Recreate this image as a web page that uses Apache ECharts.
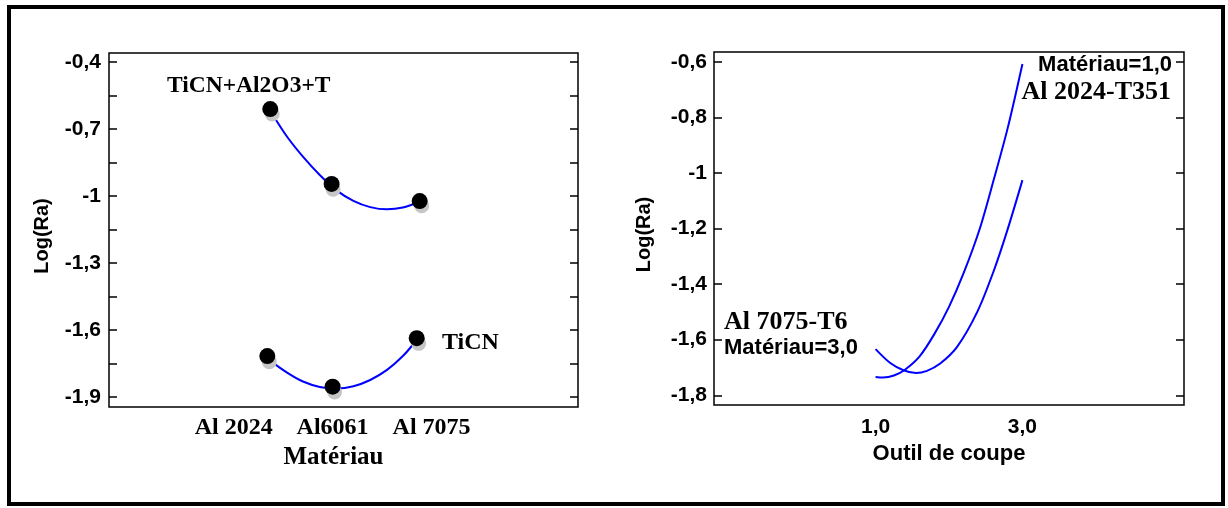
<!DOCTYPE html>
<html><head><meta charset="utf-8">
<script src="https://cdn.jsdelivr.net/npm/echarts@6/dist/echarts.min.js"></script>
<style>html,body{margin:0;padding:0;background:#fff}#c{width:1228px;height:508px}</style>
</head><body><div id="c"></div>
<script>
// ---- Left panel: Log(Ra) vs Matériau ----
const materials = ['Al 2024', 'Al6061', 'Al 7075'];
const materialPos = [1, 2, 3];
const leftYTicks = [-1.9, -1.6, -1.3, -1, -0.7, -0.4];
const leftYAllTicks = [-1.9, -1.75, -1.6, -1.45, -1.3, -1.15, -1, -0.85, -0.7, -0.55, -0.4];

// TiCN+Al2O3+T
const coatedX = [1.37, 1.99, 2.88];
const coatedY = [-0.611, -0.946, -1.023];
const coatedFitX = [1.39, 2.005, 2.90];
const coatedFitY = [-0.633, -0.970, -1.044];
const coatedCurveX = [1.39, 1.54, 1.70, 1.87, 2.04, 2.21, 2.38, 2.55, 2.71, 2.88];
const coatedCurveY = [-0.633, -0.735, -0.824, -0.906, -0.975, -1.022, -1.050, -1.060, -1.052, -1.026];

// TiCN
const ticnX = [1.34, 2.00, 2.85];
const ticnY = [-1.717, -1.854, -1.637];
const ticnFitX = [1.36, 2.02, 2.87];
const ticnFitY = [-1.742, -1.878, -1.660];
const ticnCurveX = [1.36, 1.54, 1.70, 1.87, 2.04, 2.21, 2.38, 2.55, 2.71, 2.85];
const ticnCurveY = [-1.735, -1.791, -1.831, -1.855, -1.862, -1.852, -1.824, -1.779, -1.717, -1.645];

// ---- Right panel: Log(Ra) vs Outil de coupe ----
const toolTicks = [1, 3];
const toolTickLabels = ['1,0', '3,0'];
const rightYTicks = [-1.8, -1.6, -1.4, -1.2, -1, -0.8, -0.6];

// Matériau=1,0 (Al 2024-T351)
const al2024X = [1.00, 1.10, 1.25, 1.40, 1.60, 1.80, 2.00, 2.20, 2.42, 2.61, 2.80, 3.00];
const al2024Y = [-1.734, -1.736, -1.729, -1.708, -1.660, -1.580, -1.482, -1.360, -1.200, -1.024, -0.838, -0.608];
// Matériau=3,0 (Al 7075-T6)
const al7075X = [1.00, 1.20, 1.38, 1.55, 1.70, 1.88, 2.11, 2.385, 2.61, 2.795, 3.00];
const al7075Y = [-1.634, -1.684, -1.710, -1.720, -1.712, -1.686, -1.626, -1.500, -1.352, -1.206, -1.026];

const zip = (xs, ys) => xs.map((x, i) => [x, ys[i]]);
const fmtComma = v => String(Math.round(v * 10) / 10).replace('.', ',');

const SANS = '"Liberation Sans", Arial, sans-serif';
const SERIF = '"Liberation Serif", "Times New Roman", serif';
const BLUE = '#0000ff';

const tickStyle = { show: true, inside: true, length: 8, lineStyle: { color: '#000', width: 1.5 } };
const noLine = { show: false, onZero: false };

const chart = echarts.init(document.getElementById('c'), null, { renderer: 'canvas' });
chart.setOption({
  backgroundColor: '#fff',
  animation: false,
  grid: [
    { left: 109, top: 53, width: 469, height: 354, show: true, borderColor: '#000', borderWidth: 1.5, backgroundColor: 'transparent' },
    { left: 714, top: 52, width: 470, height: 353, show: true, borderColor: '#000', borderWidth: 1.5, backgroundColor: 'transparent' }
  ],
  xAxis: [
    {
      gridIndex: 0, type: 'value', min: -0.26, max: 4.48,
      axisLine: noLine, axisTick: { show: false }, splitLine: { show: false },
      axisLabel: {
        customValues: materialPos, margin: 9,
        formatter: v => materials[materialPos.indexOf(Math.round(v))] || '',
        fontFamily: SERIF, fontWeight: 'bold', fontSize: 24, color: '#000'
      },
      name: 'Matériau', nameLocation: 'middle', nameGap: 36,
      nameTextStyle: { fontFamily: SERIF, fontWeight: 'bold', fontSize: 25, color: '#000', padding: [0, 20, 0, 0] }
    },
    {
      gridIndex: 1, type: 'value', min: -1.2, max: 5.2,
      axisLine: noLine, axisTick: { show: false }, splitLine: { show: false },
      axisLabel: {
        customValues: toolTicks, margin: 12,
        formatter: v => toolTickLabels[toolTicks.indexOf(Math.round(v))] || '',
        fontFamily: SANS, fontWeight: 'bold', fontSize: 21, color: '#000'
      },
      name: 'Outil de coupe', nameLocation: 'middle', nameGap: 37,
      nameTextStyle: { fontFamily: SANS, fontWeight: 'bold', fontSize: 22, color: '#000' }
    }
  ],
  yAxis: [
    {
      gridIndex: 0, type: 'value', position: 'left', min: -1.945, max: -0.36,
      axisLine: noLine, splitLine: { show: false },
      axisTick: Object.assign({ customValues: leftYAllTicks }, tickStyle),
      axisLabel: { customValues: leftYTicks, formatter: fmtComma, margin: 8, fontFamily: SANS, fontWeight: 'bold', fontSize: 21, color: '#000' },
      name: 'Log(Ra)', nameLocation: 'middle', nameGap: 57,
      nameTextStyle: { fontFamily: SANS, fontWeight: 'bold', fontSize: 20, color: '#000', padding: [0, 12, 0, 0] }
    },
    {
      gridIndex: 0, type: 'value', position: 'right', min: -1.945, max: -0.36,
      axisLine: noLine, splitLine: { show: false },
      axisTick: Object.assign({ customValues: leftYAllTicks }, tickStyle),
      axisLabel: { show: false }
    },
    {
      gridIndex: 1, type: 'value', position: 'left', min: -1.835, max: -0.565,
      axisLine: noLine, splitLine: { show: false },
      axisTick: Object.assign({ customValues: rightYTicks }, tickStyle),
      axisLabel: { customValues: rightYTicks, formatter: fmtComma, margin: 7, fontFamily: SANS, fontWeight: 'bold', fontSize: 21, color: '#000' },
      name: 'Log(Ra)', nameLocation: 'middle', nameGap: 60,
      nameTextStyle: { fontFamily: SANS, fontWeight: 'bold', fontSize: 20, color: '#000', padding: [0, 12, 0, 0] }
    },
    {
      gridIndex: 1, type: 'value', position: 'right', min: -1.835, max: -0.565,
      axisLine: noLine, splitLine: { show: false },
      axisTick: Object.assign({ customValues: rightYTicks }, tickStyle),
      axisLabel: { show: false }
    }
  ],
  series: [
    { type: 'line', xAxisIndex: 0, yAxisIndex: 0, data: zip(coatedCurveX, coatedCurveY), smooth: 0.3, showSymbol: false, lineStyle: { color: BLUE, width: 2 }, z: 2 },
    { type: 'line', xAxisIndex: 0, yAxisIndex: 0, data: zip(ticnCurveX, ticnCurveY), smooth: 0.3, showSymbol: false, lineStyle: { color: BLUE, width: 2 }, z: 2 },
    { type: 'scatter', xAxisIndex: 0, yAxisIndex: 0, data: zip(coatedFitX, coatedFitY), symbolSize: 15, itemStyle: { color: '#c6c6c6', opacity: 1 }, z: 3 },
    { type: 'scatter', xAxisIndex: 0, yAxisIndex: 0, data: zip(ticnFitX, ticnFitY), symbolSize: 15, itemStyle: { color: '#c6c6c6', opacity: 1 }, z: 3 },
    { type: 'scatter', xAxisIndex: 0, yAxisIndex: 0, data: zip(coatedX, coatedY), symbolSize: 16, itemStyle: { color: '#000', opacity: 1 }, z: 4 },
    { type: 'scatter', xAxisIndex: 0, yAxisIndex: 0, data: zip(ticnX, ticnY), symbolSize: 16, itemStyle: { color: '#000', opacity: 1 }, z: 4 },
    { type: 'line', xAxisIndex: 1, yAxisIndex: 2, data: zip(al2024X, al2024Y), smooth: 0.3, showSymbol: false, lineStyle: { color: BLUE, width: 2 } },
    { type: 'line', xAxisIndex: 1, yAxisIndex: 2, data: zip(al7075X, al7075Y), smooth: 0.3, showSymbol: false, lineStyle: { color: BLUE, width: 2 } }
  ],
  graphic: [
    { type: 'rect', shape: { x: 9, y: 7, width: 1214, height: 497 }, style: { fill: 'none', stroke: '#000', lineWidth: 4 }, z: 100 },
    { type: 'text', x: 167, y: 86, style: { text: 'TiCN+Al2O3+T', font: 'bold 23.5px ' + SERIF, fill: '#000', verticalAlign: 'middle' } },
    { type: 'text', x: 442, y: 343, style: { text: 'TiCN', font: 'bold 24px ' + SERIF, fill: '#000', verticalAlign: 'middle' } },
    { type: 'text', x: 1172, y: 65, style: { text: 'Matériau=1,0', font: 'bold 22px ' + SANS, fill: '#000', align: 'right', verticalAlign: 'middle' } },
    { type: 'text', x: 1171, y: 92, style: { text: 'Al 2024-T351', font: 'bold 26px ' + SERIF, fill: '#000', align: 'right', verticalAlign: 'middle' } },
    { type: 'text', x: 724, y: 322, style: { text: 'Al 7075-T6', font: 'bold 26px ' + SERIF, fill: '#000', verticalAlign: 'middle' } },
    { type: 'text', x: 724, y: 348, style: { text: 'Matériau=3,0', font: 'bold 22px ' + SANS, fill: '#000', verticalAlign: 'middle' } }
  ]
});
</script>
</body></html>
